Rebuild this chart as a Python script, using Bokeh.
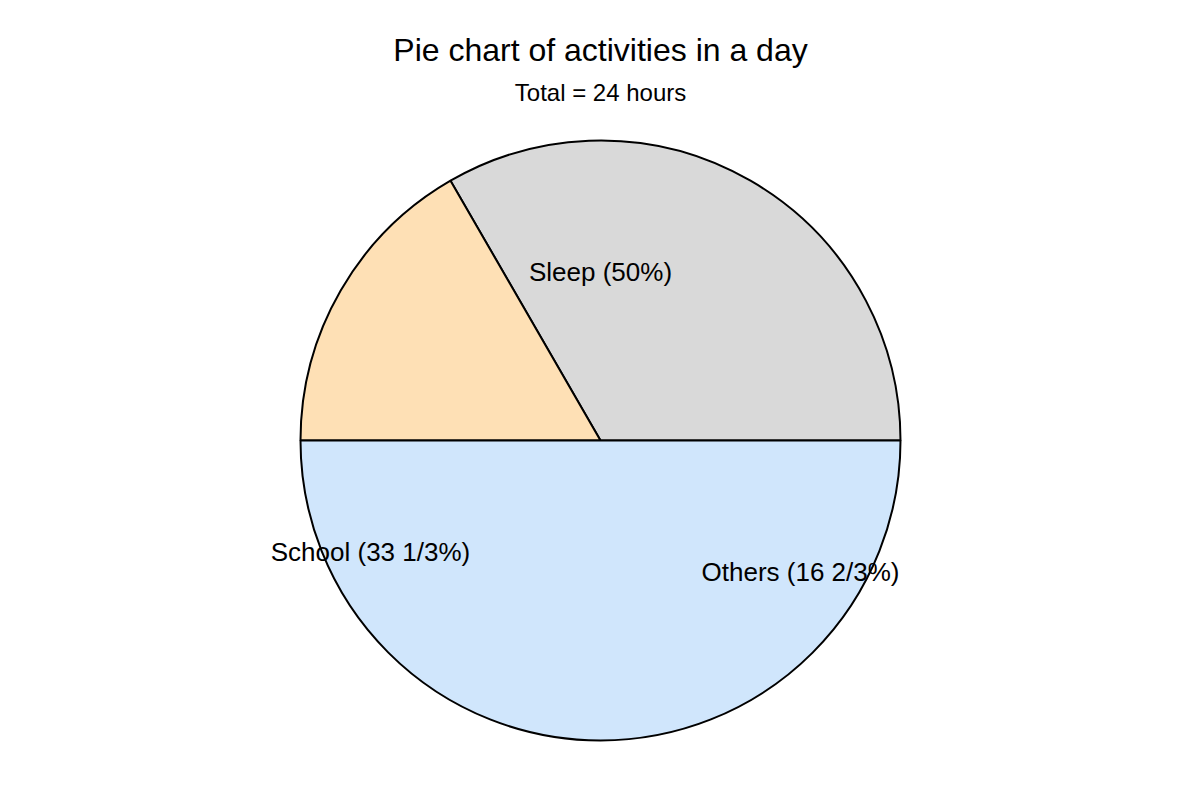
import numpy as np
from bokeh.plotting import figure
from bokeh.models import ColumnDataSource
from bokeh.core.properties import value
from bokeh.embed import file_html
from bokeh.resources import INLINE

# slice values (hours) as drawn, counter-clockwise from 3 o'clock
slice_hours = [8, 4, 12]
slice_colors = ["#d9d9d9", "#fee0b5", "#d0e6fc"]

# labels as they appear in the chart
label_text = ["Sleep (50%)", "School (33 1/3%)", "Others (16 2/3%)"]

title_text = "Pie chart of activities in a day"
subtitle_text = "Total = 24 hours"

FONT = value("Liberation Sans")
R = 300

hours = np.array(slice_hours, dtype=float)
ends = np.cumsum(hours) / hours.sum() * 2 * np.pi
starts = np.concatenate([[0], ends[:-1]])

src = ColumnDataSource(dict(start=starts, end=ends, color=slice_colors))

p = figure(width=1184, height=784, x_range=(-600, 584), y_range=(-344, 440),
           toolbar_location=None, tools="", output_backend="svg", min_border=0)
p.axis.visible = False
p.grid.visible = False
p.outline_line_color = None

p.wedge(x=0, y=0, radius=R, start_angle="start", end_angle="end", source=src,
        fill_color="color", line_color="black", line_width=2)

# label placement (layout only)
lab_x = [0, -230, 200]
lab_y = [169, -111, -131]
p.text(x=lab_x, y=lab_y, text=label_text, text_font=FONT, text_font_size="26px",
       text_align="center", text_baseline="middle", text_color="black")

p.text(x=[0], y=[391], text=[title_text], text_font=FONT, text_font_size="32px",
       text_align="center", text_baseline="middle", text_color="black")
p.text(x=[0], y=[348], text=[subtitle_text], text_font=FONT, text_font_size="24px",
       text_align="center", text_baseline="middle", text_color="black")

open("out.html", "w").write(file_html(p, INLINE))
